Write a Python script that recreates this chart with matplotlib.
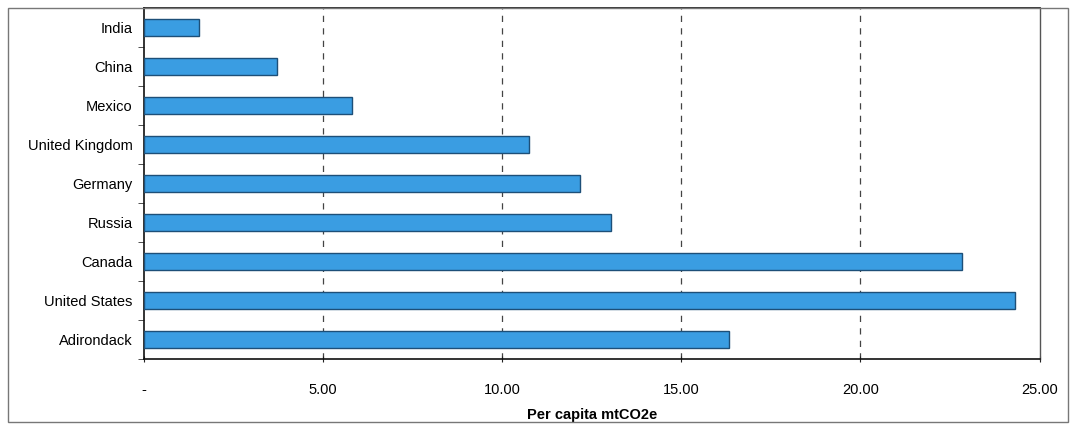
import numpy as np
import matplotlib.pyplot as plt
from matplotlib.patches import Rectangle

# Per capita emissions (top to bottom)
countries = ['India', 'China', 'Mexico', 'United Kingdom', 'Germany',
             'Russia', 'Canada', 'United States', 'Adirondack']
per_capita = [1.53, 3.71, 5.80, 10.76, 12.18, 13.04, 22.82, 24.30, 16.33]
x_ticks = [0, 5, 10, 15, 20, 25]
x_tick_labels = ['-', '5.00', '10.00', '15.00', '20.00', '25.00']

plt.rcParams['font.family'] = ['Liberation Sans', 'DejaVu Sans']

fig = plt.figure(figsize=(10.74, 4.25), dpi=100)
ax = fig.add_axes([0.134, 0.155, 0.834, 0.826])

y = np.arange(len(countries))
ax.barh(y, per_capita, height=0.42, color='#3a9de2', edgecolor='#1d4f78', linewidth=1.0, zorder=3)

ax.set_ylim(len(countries) - 0.5, -0.5)
ax.set_xlim(0, 25)
ax.set_yticks(y)
ax.set_yticklabels(countries, fontsize=10.5)
ax.set_yticks(np.arange(-0.5, len(countries), 1), minor=True)
ax.tick_params(axis='y', which='major', length=0, pad=8)
ax.tick_params(axis='y', which='minor', length=4, direction='out', color='#333333')

ax.set_xticks(x_ticks)
ax.set_xticklabels(x_tick_labels, fontsize=10.5)
ax.tick_params(axis='x', length=4, direction='inout', pad=15, color='#222222')

# dashed vertical gridlines
for v in x_ticks[1:-1]:
    ax.axvline(v, color='#444444', linestyle=(0, (5, 5)), linewidth=0.9, zorder=1)

ax.set_xlabel('Per capita mtCO2e', fontsize=10.5, fontweight='bold', labelpad=8)

for side in ['left', 'bottom', 'top']:
    ax.spines[side].set_color('#111111')
    ax.spines[side].set_linewidth(1.2)
ax.spines['right'].set_color('#555555')
ax.spines['right'].set_linewidth(1.0)

# outer chart frame
fig.patches.append(Rectangle((8 / 1074, 3 / 425), 1060 / 1074, 414 / 425,
                             transform=fig.transFigure, fill=False,
                             edgecolor='#777777', linewidth=1.0))

plt.savefig('out.png', dpi=100)
